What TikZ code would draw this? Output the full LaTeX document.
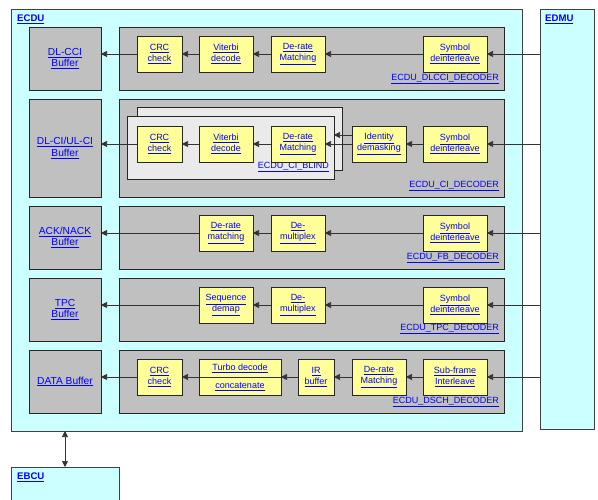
\documentclass[tikz,border=0pt]{standalone}
\usepackage{fontspec}
\setmainfont{Liberation Sans}
\usetikzlibrary{arrows.meta,positioning}
\definecolor{ecducyan}{RGB}{204,255,255}
\definecolor{decgray}{RGB}{192,192,192}
\definecolor{stepyellow}{RGB}{255,255,153}
\definecolor{blindgray}{RGB}{234,234,234}
\definecolor{linkblue}{RGB}{0,0,255}
\newcommand{\lnk}[1]{\textcolor{linkblue}{\underline{#1}}}

\begin{document}
\begin{tikzpicture}[x=1pt, y=-1pt, font=\fontsize{9}{11}\selectfont,
    unit/.style={draw=black!75, fill=ecducyan, line width=0.8pt, inner sep=0pt, outer sep=0pt},
    bufbox/.style={draw=black!85, fill=decgray, line width=0.8pt, minimum width=72pt,
        minimum height=63pt, align=center, inner sep=0pt, outer sep=0pt,
        font=\fontsize{10.2}{11.5}\selectfont},
    decbox/.style={draw=black!85, fill=decgray, line width=0.8pt, minimum width=385pt,
        minimum height=63pt, inner sep=0pt, outer sep=0pt},
    blindbox/.style={draw=black!85, fill=blindgray, line width=0.8pt, minimum height=63pt,
        inner sep=0pt, outer sep=0pt},
    stepbox/.style={draw=black!85, fill=stepyellow, line width=0.8pt, minimum height=36pt,
        align=center, inner sep=0pt, outer sep=0pt},
    tag/.style={anchor=east, inner sep=0pt},
    title/.style={anchor=west, inner sep=0pt, font=\fontsize{9.6}{11}\selectfont\bfseries},
    arr/.style={draw=black!80, line width=0.7pt, -{Triangle[length=6pt,width=6pt]}},
    arr2/.style={draw=black!80, line width=0.7pt, {Triangle[length=6pt,width=6pt]}-{Triangle[length=6pt,width=6pt]}}]
    \useasboundingbox (0,0) rectangle (598,500);

    % Units
    \node[unit, minimum width=511pt, minimum height=422pt] (ecdu) at (266.5,220) {};
    \node[unit, minimum width=54pt, minimum height=420pt] (edmu) at (567,219) {};
    \node[unit, minimum width=108pt, minimum height=38pt] (ebcu) at (65,486) {};
    \node[title] (ecduT) at (17,19) {\lnk{ECDU}};
    \node[title] (edmuT) at (545,19) {\lnk{EDMU}};
    \node[title] (ebcuT) at (17,477) {\lnk{EBCU}};

    % Buffers
    \node[bufbox] (bufA) at (65,58.5) {\lnk{DL-CCI}\\\lnk{Buffer}};
    \node[bufbox, minimum height=98pt] (bufB) at (65,148) {\lnk{DL-CI/UL-CI}\\\lnk{Buffer}};
    \node[bufbox] (bufC) at (65,237.5) {\lnk{ACK/NACK}\\\lnk{Buffer}};
    \node[bufbox] (bufD) at (65,309.5) {\lnk{TPC}\\\lnk{Buffer}};
    \node[bufbox] (bufE) at (65,381.5) {\lnk{DATA Buffer}};

    % Decoders
    \node[decbox] (decA) at (311.5,58.5) {};
    \node[decbox, minimum height=98pt] (decB) at (311.5,148) {};
    \node[decbox] (decC) at (311.5,237.5) {};
    \node[decbox] (decD) at (311.5,309.5) {};
    \node[decbox] (decE) at (311.5,381.5) {};
    \node[tag] (tagA) at (499,79) {\lnk{ECDU\_DLCCI\_DECODER}};
    \node[tag] (tagB) at (499,186) {\lnk{ECDU\_CI\_DECODER}};
    \node[tag] (tagC) at (499,258) {\lnk{ECDU\_FB\_DECODER}};
    \node[tag] (tagD) at (499,329) {\lnk{ECDU\_TPC\_DECODER}};
    \node[tag] (tagE) at (499,402) {\lnk{ECDU\_DSCH\_DECODER}};

    % CI blind stack
    \node[blindbox, minimum width=205pt] (blindR) at (239.5,138.5) {};
    \node[blindbox, minimum width=207pt] (blindF) at (230.5,147.5) {};
    \node[tag] (tagF) at (329,167) {\lnk{ECDU\_CI\_BLIND}};

    % DLCCI row
    \node[stepbox, minimum width=45pt] (crcA) at (159.5,54) {\lnk{CRC}\\\lnk{check}};
    \node[stepbox, minimum width=54pt] (vitA) at (226,54) {\lnk{Viterbi}\\\lnk{decode}};
    \node[stepbox, minimum width=54pt] (derA) at (298,54) {\lnk{De-rate}\\\lnk{Matching}};
    \node[stepbox, minimum width=64pt] (symA) at (455,54) {\lnk{Symbol}\\\lnk{deinterleave}};

    % CI row
    \node[stepbox, minimum width=45pt] (crcB) at (159.5,144) {\lnk{CRC}\\\lnk{check}};
    \node[stepbox, minimum width=54pt] (vitB) at (226,144) {\lnk{Viterbi}\\\lnk{decode}};
    \node[stepbox, minimum width=54pt] (derB) at (298,144) {\lnk{De-rate}\\\lnk{Matching}};
    \node[stepbox, minimum width=54pt] (idB) at (379,144) {\lnk{Identity}\\\lnk{demasking}};
    \node[stepbox, minimum width=64pt] (symB) at (455,144) {\lnk{Symbol}\\\lnk{deinterleave}};

    % FB row
    \node[stepbox, minimum width=54pt] (derC) at (226,233) {\lnk{De-rate}\\\lnk{matching}};
    \node[stepbox, minimum width=54pt] (muxC) at (298,233) {\lnk{De-}\\\lnk{multiplex}};
    \node[stepbox, minimum width=64pt] (symC) at (455,233) {\lnk{Symbol}\\\lnk{deinterleave}};

    % TPC row
    \node[stepbox, minimum width=54pt] (seqD) at (226,305) {\lnk{Sequence}\\\lnk{demap}};
    \node[stepbox, minimum width=54pt] (muxD) at (298,305) {\lnk{De-}\\\lnk{multiplex}};
    \node[stepbox, minimum width=64pt] (symD) at (455,305) {\lnk{Symbol}\\\lnk{deinterleave}};

    % DSCH row
    \node[stepbox, minimum width=45pt] (crcE) at (159.5,377) {\lnk{CRC}\\\lnk{check}};
    \node[stepbox, minimum width=82pt] (turE) at (240,377) {\lnk{Turbo decode}\\[7pt]\lnk{concatenate}};
    \node[stepbox, minimum width=36pt] (irE) at (316,377) {\lnk{IR}\\\lnk{buffer}};
    \node[stepbox, minimum width=54pt] (derE) at (379,377) {\lnk{De-rate}\\\lnk{Matching}};
    \node[stepbox, minimum width=64pt] (subE) at (455,377) {\lnk{Sub-frame}\\\lnk{Interleave}};
    \draw[draw=black!80, line width=0.7pt] (turE.west) -- (turE.east);

    % Connectors
    \draw[arr] (edmu.west |- symA.east) -- (symA.east);
    \draw[arr] (symA) -- (derA);
    \draw[arr] (derA) -- (vitA);
    \draw[arr] (vitA) -- (crcA);
    \draw[arr] (crcA.west) -- (crcA.west -| bufA.east);

    \draw[arr] (edmu.west |- symB.east) -- (symB.east);
    \draw[arr] (symB) -- (idB);
    \draw[arr] (idB) -- (derB);
    \draw[arr] ([yshift=9pt]idB.west) -- ([yshift=9pt]idB.west -| blindF.east);
    \draw[arr] (derB) -- (vitB);
    \draw[arr] (vitB) -- (crcB);
    \draw[arr] (crcB.west) -- (crcB.west -| bufB.east);

    \draw[arr] (edmu.west |- symC.east) -- (symC.east);
    \draw[arr] (symC) -- (muxC);
    \draw[arr] (muxC) -- (derC);
    \draw[arr] (derC.west) -- (derC.west -| bufC.east);

    \draw[arr] (edmu.west |- symD.east) -- (symD.east);
    \draw[arr] (symD) -- (muxD);
    \draw[arr] (muxD) -- (seqD);
    \draw[arr] (seqD.west) -- (seqD.west -| bufD.east);

    \draw[arr] (edmu.west |- subE.east) -- (subE.east);
    \draw[arr] (subE) -- (derE);
    \draw[arr] (derE) -- (irE);
    \draw[arr] (irE) -- (turE);
    \draw[arr] (turE) -- (crcE);
    \draw[arr] (crcE.west) -- (crcE.west -| bufE.east);

    \draw[arr2] (ebcu.north) -- (ebcu.north |- ecdu.south);
\end{tikzpicture}
\end{document}
